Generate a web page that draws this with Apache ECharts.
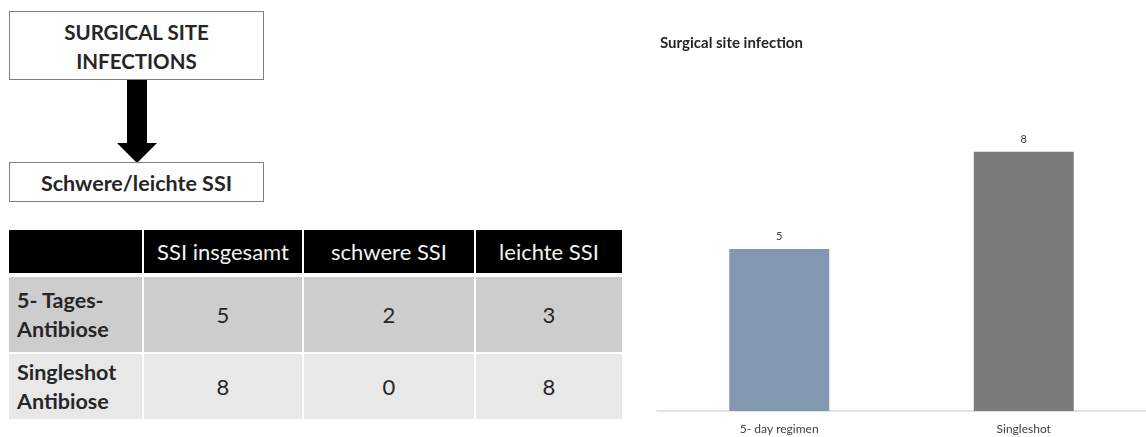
<!DOCTYPE html>
<html>
<head>
<meta charset="utf-8">
<script src="https://cdn.jsdelivr.net/npm/echarts@6/dist/echarts.min.js"></script>
<style>
  html, body { margin: 0; padding: 0; background: #fff; }
  body { width: 1146px; height: 437px; position: relative; overflow: hidden; font-family: Lato, "Open Sans", sans-serif; }
  .box { position: absolute; left: 9px; width: 255px; border: 1.5px solid #808080; box-sizing: border-box;
         display: flex; align-items: center; justify-content: center; text-align: center;
         font-weight: bold; color: #262626; }
  #box1 { top: 11px; height: 69px; line-height: 29px; font-size: 20.5px; padding-top: 2px; }
  #box2 { top: 162px; height: 40px; font-size: 21.5px; padding-top: 2px; }
  #arrow { position: absolute; left: 0; top: 0; }
  #tbl { position: absolute; left: 9px; top: 230px; display: grid;
         grid-template-columns: 133px 158px 170px 146px;
         grid-template-rows: 43px 4px 75px 2px 65px; column-gap: 2px; }
  .cell { display: flex; align-items: center; justify-content: center; font-size: 22px; color: #262626; }
  .head { background: #000; color: #f2f2f2; }
  .r0 { background: #cdcdcd; }
  .r1 { background: #e8e8e8; }
  .lab { justify-content: flex-start; padding-left: 8px; font-weight: bold; line-height: 29px; white-space: pre; font-size: 21.5px; }
  #chart { position: absolute; left: 640px; top: 0; width: 506px; height: 437px; }
</style>
</head>
<body>
<div class="box" id="box1"></div>
<svg id="arrow" width="300" height="170"><polygon points="127,80 147,80 147,143 157,143 137,163 117,143 127,143" fill="#000"/></svg>
<div class="box" id="box2"></div>
<div id="tbl"></div>
<div id="chart"></div>
<script>
// Flow diagram captions
const topCaption = 'SURGICAL SITE\nINFECTIONS';
const subCaption = 'Schwere/leichte SSI';

// Table: infections per antibiotic regimen
const tableColumns = ['SSI insgesamt', 'schwere SSI', 'leichte SSI'];
const regimens = ['5- Tages-\nAntibiose', 'Singleshot\nAntibiose'];
const ssiTotal = [5, 8];
const ssiSevere = [2, 0];
const ssiMild = [3, 8];

// Bar chart
const chartTitle = 'Surgical site infection';
const chartCategories = ['5- day regimen', 'Singleshot'];
const barColors = ['#8497b0', '#7b7b7b'];

document.getElementById('box1').innerHTML = topCaption.split('\n').join('<br>');
document.getElementById('box2').textContent = subCaption;

// build the table cells row by row
const tbl = document.getElementById('tbl');
function addCell(text, cls, row, col) {
  const d = document.createElement('div');
  d.className = 'cell ' + cls;
  d.textContent = text;
  d.style.gridRow = String(row);
  d.style.gridColumn = String(col);
  tbl.appendChild(d);
}
addCell('', 'head', 1, 1);
tableColumns.forEach((c, i) => addCell(c, 'head', 1, i + 2));
regimens.forEach((r, i) => {
  const row = i === 0 ? 3 : 5;
  const cls = 'r' + i;
  addCell(r, cls + ' lab', row, 1);
  addCell(String(ssiTotal[i]), cls, row, 2);
  addCell(String(ssiSevere[i]), cls, row, 3);
  addCell(String(ssiMild[i]), cls, row, 4);
});

const chart = echarts.init(document.getElementById('chart'));
chart.setOption({
  animation: false,
  title: {
    text: chartTitle, left: 15, top: 31,
    textStyle: { fontFamily: 'Lato', fontSize: 15, fontWeight: 'bold', color: '#262626' }
  },
  grid: { left: 17, width: 500, top: 87, bottom: 26 },
  xAxis: {
    type: 'category', data: chartCategories,
    axisLine: { lineStyle: { color: '#d9d9d9', width: 1.5 } },
    axisTick: { show: false },
    axisLabel: { fontFamily: 'Lato', fontSize: 12, color: '#404040', margin: 12 }
  },
  yAxis: { type: 'value', min: 0, max: 10, show: false, splitLine: { show: false } },
  series: [{
    type: 'bar', barWidth: 100,
    data: ssiTotal.map((v, i) => ({ value: v, itemStyle: { color: barColors[i] } })),
    label: { show: true, position: 'top', distance: 7, fontFamily: 'Lato', fontSize: 11, color: '#404040' }
  }]
});
</script>
</body>
</html>
